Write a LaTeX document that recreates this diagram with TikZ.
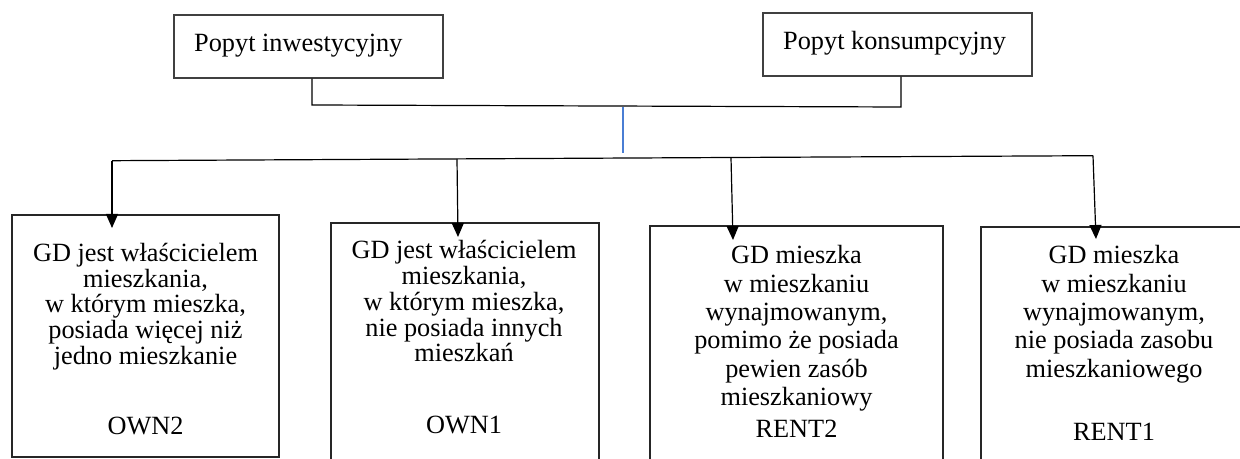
\documentclass[tikz,border=0pt]{standalone}
\usepackage{fontspec}
\setmainfont{Liberation Serif}
\usetikzlibrary{arrows.meta}
\tikzset{
  topbox/.style={draw=black!75, line width=1.4bp, inner sep=0pt},
  lowbox/.style={draw=black!85, line width=1.2bp, inner sep=0pt},
  conn/.style={draw=black, line width=1.2bp},
  arr/.style={conn, -{Triangle[length=14bp,width=12bp]}},
  txt/.style={inner sep=0pt, anchor=base},
}
\newcommand{\blocktext}[3]{\parbox[t]{#1}{\centering\fontsize{26.3bp}{#2}\selectfont\lineskiplimit=-100pt\lineskip=0pt #3}}
\begin{document}
\begin{tikzpicture}[x=1bp,y=-1bp]
\useasboundingbox (0,0) rectangle (1240,459);
\clip (0,0) rectangle (1240,459);
\fill[white] (0,0) rectangle (1240,459);

% top boxes
\node[topbox, minimum width=269bp, minimum height=63bp] (inw) at (308.5,46.5) {};
\node[inner sep=0pt, anchor=base west, font=\fontsize{26.3bp}{30bp}\selectfont] (inwt) at (194,52) {Popyt inwestycyjny};
\node[topbox, minimum width=269bp, minimum height=63bp] (kons) at (897.5,44.5) {};
\node[inner sep=0pt, anchor=base west, font=\fontsize{26.3bp}{30bp}\selectfont] (konst) at (783,50) {Popyt konsumpcyjny};

% lower boxes
\node[lowbox, minimum width=267bp, minimum height=242bp] (own2) at (145.5,336) {};
\node[lowbox, minimum width=268bp, minimum height=257bp] (own1) at (465,351.5) {};
\node[lowbox, minimum width=293bp, minimum height=254bp] (rent2) at (796.5,353) {};
\node[lowbox, minimum width=269bp, minimum height=253bp] (rent1) at (1115.5,353.5) {};

\node[txt] (own2t) at (145.5,261.7) {\blocktext{262bp}{25.6bp}{GD jest właścicielem\\ mieszkania,\\ w którym mieszka,\\ posiada więcej niż\\ jedno mieszkanie\\[45bp] OWN2}};
\node[txt] (own1t) at (464,259) {\blocktext{262bp}{25.7bp}{GD jest właścicielem\\ mieszkania,\\ w którym mieszka,\\ nie posiada innych\\ mieszkań\\[46.5bp] OWN1}};
\node[txt] (rent2t) at (796.5,264) {\blocktext{288bp}{28.3bp}{GD mieszka\\ w mieszkaniu\\ wynajmowanym,\\ pomimo że posiada\\ pewien zasób\\ mieszkaniowy\\[4bp] RENT2}};
\node[txt] (rent1t) at (1114,264) {\blocktext{262bp}{28.3bp}{GD mieszka\\ w mieszkaniu\\ wynajmowanym,\\ nie posiada zasobu\\ mieszkaniowego\\[35bp] RENT1}};

% top connector
\coordinate (j1) at (312,105);
\coordinate (j2) at (901,107);
\draw[conn] (inw.south -| j1) -- (j1) -- (j2) -- (kons.south -| j2);

% blue line
\coordinate (b1) at (623,107);
\coordinate (b2) at (623,153);
\draw[draw={rgb,255:red,74;green,126;blue,212}, line width=1.1bp] (b1) -- (b2);

% lower distribution line
\coordinate (l1) at (112,160.7);
\coordinate (l2) at (457,158.9);
\coordinate (l3) at (731,157.5);
\coordinate (l4) at (1093,155.7);
\draw[conn] (l1) -- (l2) -- (l3) -- (l4);

% arrow tips
\coordinate (a1) at (112,228);
\coordinate (a2) at (458,237);
\coordinate (a3) at (733,240);
\coordinate (a4) at (1096,239);
\draw[arr] (l1) -- (a1);
\draw[arr] (l2) -- (a2);
\draw[arr] (l3) -- (a3);
\draw[arr] (l4) -- (a4);
\end{tikzpicture}
\end{document}
